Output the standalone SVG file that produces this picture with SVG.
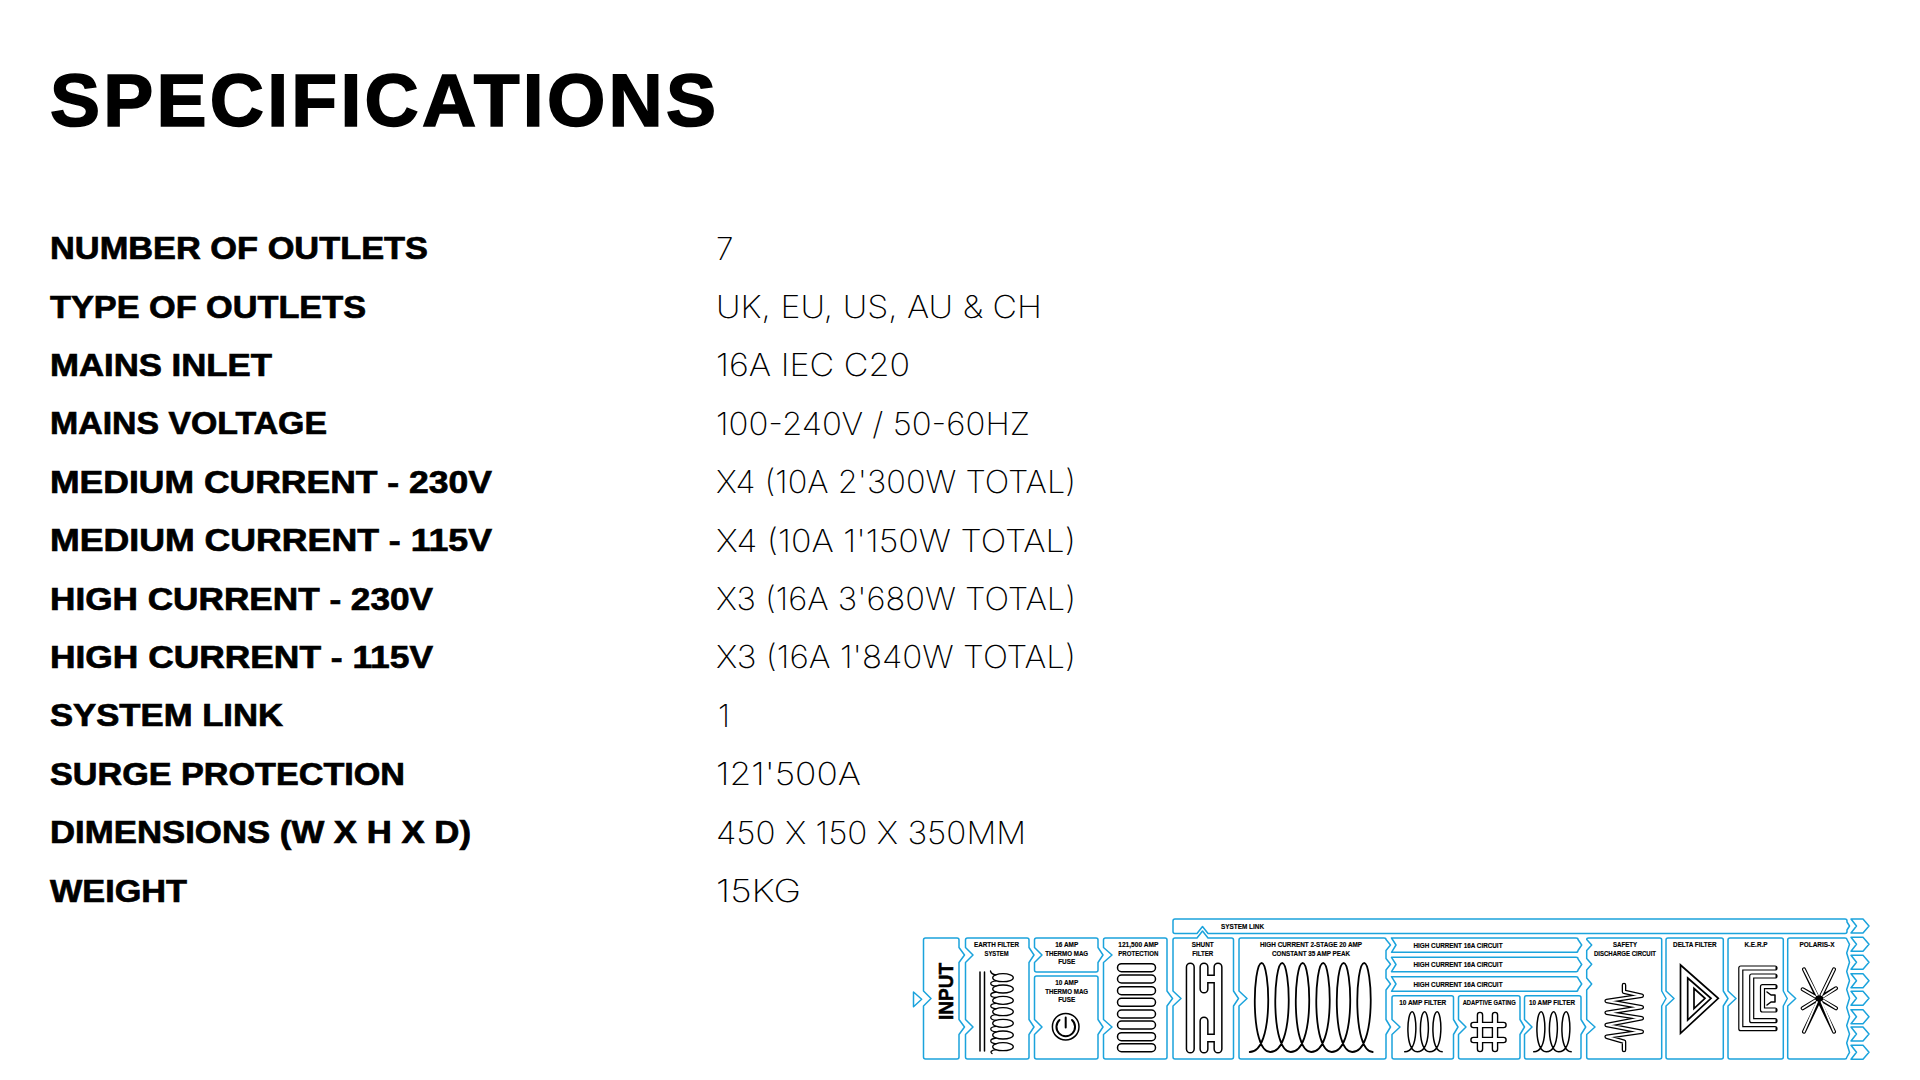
<svg xmlns="http://www.w3.org/2000/svg" xmlns:xlink="http://www.w3.org/1999/xlink" width="1920" height="1080" viewBox="0 0 1920 1080">
<style>
text{font-family:"Liberation Sans",Arial,sans-serif;fill:#000}
.title{font-size:75px;font-weight:700;stroke:#000;stroke-width:1.6px}
.k{font-size:31.5px;font-weight:700;stroke:#000;stroke-width:.7px}
.v{font-family:Inter,"Liberation Sans",sans-serif;font-size:31.5px;font-weight:200}
.t{font-size:7px;font-weight:700;text-anchor:middle;stroke:#000;stroke-width:.15px}
.b{fill:#fff;stroke:#1ba3dc;stroke-width:1.5;stroke-linejoin:round}
.i{fill:none;stroke:#000;stroke-width:1.5;stroke-linecap:round;stroke-linejoin:round}
.ob{fill:none;stroke:#000;stroke-linecap:round;stroke-linejoin:round}
.ow{fill:none;stroke:#fff;stroke-linecap:butt;stroke-linejoin:round}
</style>
<defs>
<path id="out" class="b" d="M1851,-7 H1863 L1869,0 L1863,7 H1851 L1856.5,0 Z"/>
</defs>
<rect width="1920" height="1080" fill="#fff"/>
<text class="title" x="50" y="126" textLength="666" lengthAdjust="spacing">SPECIFICATIONS</text>
<g id="spec-keys">
<text class="k" x="50" y="259" textLength="378" lengthAdjust="spacingAndGlyphs">NUMBER OF OUTLETS</text>
<text class="k" x="50" y="317.5" textLength="316" lengthAdjust="spacingAndGlyphs">TYPE OF OUTLETS</text>
<text class="k" x="50" y="375.9" textLength="222" lengthAdjust="spacingAndGlyphs">MAINS INLET</text>
<text class="k" x="50" y="434.3" textLength="277" lengthAdjust="spacingAndGlyphs">MAINS VOLTAGE</text>
<text class="k" x="50" y="492.7" textLength="442" lengthAdjust="spacingAndGlyphs">MEDIUM CURRENT - 230V</text>
<text class="k" x="50" y="551.1" textLength="442" lengthAdjust="spacingAndGlyphs">MEDIUM CURRENT - 115V</text>
<text class="k" x="50" y="609.5" textLength="383" lengthAdjust="spacingAndGlyphs">HIGH CURRENT - 230V</text>
<text class="k" x="50" y="667.9" textLength="383" lengthAdjust="spacingAndGlyphs">HIGH CURRENT - 115V</text>
<text class="k" x="50" y="726.3" textLength="233" lengthAdjust="spacingAndGlyphs">SYSTEM LINK</text>
<text class="k" x="50" y="784.7" textLength="355" lengthAdjust="spacingAndGlyphs">SURGE PROTECTION</text>
<text class="k" x="50" y="843.1" textLength="421" lengthAdjust="spacingAndGlyphs">DIMENSIONS (W X H X D)</text>
<text class="k" x="50" y="901.5" textLength="137" lengthAdjust="spacingAndGlyphs">WEIGHT</text>
</g>
<g id="spec-values">
<text class="v" x="716" y="259.5">7</text>
<text class="v" x="716" y="318" textLength="326" lengthAdjust="spacingAndGlyphs">UK, EU, US, AU &amp; CH</text>
<text class="v" x="716" y="376.4" textLength="194" lengthAdjust="spacingAndGlyphs">16A IEC C20</text>
<text class="v" x="716" y="434.8" textLength="314" lengthAdjust="spacingAndGlyphs">100-240V / 50-60HZ</text>
<text class="v" x="716" y="493.2" textLength="360" lengthAdjust="spacingAndGlyphs">X4 (10A 2'300W TOTAL)</text>
<text class="v" x="716" y="551.6" textLength="360" lengthAdjust="spacingAndGlyphs">X4 (10A 1'150W TOTAL)</text>
<text class="v" x="716" y="610" textLength="360" lengthAdjust="spacingAndGlyphs">X3 (16A 3'680W TOTAL)</text>
<text class="v" x="716" y="668.4" textLength="360" lengthAdjust="spacingAndGlyphs">X3 (16A 1'840W TOTAL)</text>
<text class="v" x="718" y="726.8">1</text>
<text class="v" x="716" y="785.2" textLength="145" lengthAdjust="spacingAndGlyphs">121'500A</text>
<text class="v" x="716" y="843.6" textLength="310" lengthAdjust="spacingAndGlyphs">450 X 150 X 350MM</text>
<text class="v" x="716" y="902" textLength="85" lengthAdjust="spacingAndGlyphs">15KG</text>
</g>

<g id="connectors">
<path class="b" d="M913.5,992 L921.7,999.3 L913.5,1006.7 Z"/>
<use xlink:href="#out" href="#out" y="926"/>
<use xlink:href="#out" href="#out" y="944.3"/>
<use xlink:href="#out" href="#out" y="962.3"/>
<use xlink:href="#out" href="#out" y="980.7"/>
<use xlink:href="#out" href="#out" y="998.3"/>
<use xlink:href="#out" href="#out" y="1016.7"/>
<use xlink:href="#out" href="#out" y="1034"/>
<use xlink:href="#out" href="#out" y="1052.3"/>
</g>

<g id="input">
<path class="b" d="M925.5,938 H957 Q959,938 959,940 V947.5 L964.5,955 L959,962.5 V1019.5 L964.5,1027 L959,1034.5 V1057 Q959,1059 957,1059 H925.5 Q923.5,1059 923.5,1057 V1006 L931,998.5 L923.5,991 V940 Q923.5,938 925.5,938 Z"/>
<text transform="translate(952.7,1020) rotate(-90)" font-size="21" font-weight="700" textLength="57" lengthAdjust="spacingAndGlyphs" stroke="#000" stroke-width=".5">INPUT</text>
</g>

<g id="earth-filter">
<path class="b" d="M967.5,938 H1027 Q1029,938 1029,940 V947.5 L1034,955 L1029,962.5 V1019.5 L1034,1027 L1029,1034.5 V1057 Q1029,1059 1027,1059 H967.5 Q965.5,1059 965.5,1057 V1034.5 L973,1027 L965.5,1019.5 V962.5 L973,955 L965.5,947.5 V940 Q965.5,938 967.5,938 Z"/>
<text class="t" x="996.5" y="947.3" textLength="45" lengthAdjust="spacingAndGlyphs">EARTH FILTER</text>
<text class="t" x="996.5" y="955.7" textLength="24" lengthAdjust="spacingAndGlyphs">SYSTEM</text>
<path class="i" d="M980,972 V1051 M984.5,972 V1051"/>
<g class="i" style="stroke-width:1.3">
<ellipse cx="1003" cy="977.7" rx="10.3" ry="4"/>
<ellipse cx="1003" cy="989" rx="10.3" ry="4"/>
<ellipse cx="1003" cy="1000.4" rx="10.3" ry="4"/>
<ellipse cx="1003" cy="1011.7" rx="10.3" ry="4"/>
<ellipse cx="1003" cy="1023.3" rx="10.3" ry="4"/>
<ellipse cx="1003" cy="1035" rx="10.3" ry="4"/>
<ellipse cx="1003" cy="1046.7" rx="10.3" ry="4"/>
<path d="M990.5,971 C991,973.5 992.5,974.5 996,974.8 M996,980.8 C989,981.5 989,985.5 996,986.2 M996,992 C989,993 989,997 996,997.5 M996,1003.4 C989,1004 989,1008 996,1008.8 M996,1014.7 C989,1015.5 989,1019.5 996,1020.4 M996,1026.3 C989,1027 989,1031 996,1032 M996,1038 C989,1039 989,1043 996,1043.8 M996,1049.7 C991,1050.2 990,1052 992,1053.5"/>
</g>
</g>

<g id="fuse-16">
<path class="b" d="M1036.5,938 H1096 Q1098,938 1098,940 V947.5 L1103,955 L1098,962.5 V970 Q1098,972 1096,972 H1036.5 Q1034.5,972 1034.5,970 V962.5 L1042,955 L1034.5,947.5 V940 Q1034.5,938 1036.5,938 Z"/>
<text class="t" x="1066.7" y="947.3" textLength="23" lengthAdjust="spacingAndGlyphs">16 AMP</text>
<text class="t" x="1066.7" y="955.7" textLength="43" lengthAdjust="spacingAndGlyphs">THERMO MAG</text>
<text class="t" x="1066.7" y="964" textLength="17" lengthAdjust="spacingAndGlyphs">FUSE</text>
</g>

<g id="fuse-10">
<path class="b" d="M1036.5,976 H1096 Q1098,976 1098,978 V1019.5 L1103,1027 L1098,1034.5 V1057 Q1098,1059 1096,1059 H1036.5 Q1034.5,1059 1034.5,1057 V1034.5 L1042,1027 L1034.5,1019.5 V978 Q1034.5,976 1036.5,976 Z"/>
<text class="t" x="1066.7" y="985.3" textLength="23" lengthAdjust="spacingAndGlyphs">10 AMP</text>
<text class="t" x="1066.7" y="994" textLength="43" lengthAdjust="spacingAndGlyphs">THERMO MAG</text>
<text class="t" x="1066.7" y="1002.3" textLength="17" lengthAdjust="spacingAndGlyphs">FUSE</text>
<circle class="i" cx="1065.7" cy="1026.7" r="13.3"/>
<path class="i" d="M1059.5,1020 A9.3,9.3 0 1 0 1072,1020 M1065.7,1017.5 V1027.5" style="stroke-width:2"/>
</g>

<g id="surge-protection">
<path class="b" d="M1105.5,938 H1165 Q1167,938 1167,940 V991 L1172.5,998.5 L1167,1006 V1057 Q1167,1059 1165,1059 H1105.5 Q1103.5,1059 1103.5,1057 V1034.5 L1112,1027 L1103.5,1019.5 V962.5 L1112,955 L1103.5,947.5 V940 Q1103.5,938 1105.5,938 Z"/>
<text class="t" x="1138.3" y="947.3" textLength="40" lengthAdjust="spacingAndGlyphs">121,500 AMP</text>
<text class="t" x="1138.3" y="955.7" textLength="40" lengthAdjust="spacingAndGlyphs">PROTECTION</text>
<g class="i">
<rect x="1117.5" y="963.7" width="38" height="8" rx="4"/>
<rect x="1117.5" y="975" width="38" height="8" rx="4"/>
<rect x="1117.5" y="986.7" width="38" height="8" rx="4"/>
<rect x="1117.5" y="998.3" width="38" height="8" rx="4"/>
<rect x="1117.5" y="1010" width="38" height="8" rx="4"/>
<rect x="1117.5" y="1021" width="38" height="8" rx="4"/>
<rect x="1117.5" y="1032.7" width="38" height="8" rx="4"/>
<rect x="1117.5" y="1043.7" width="38" height="8" rx="4"/>
</g>
</g>

<g id="system-link">
<path class="b" d="M1175,919 H1845 Q1847,919 1847,921 V922 L1849.5,926 L1847,930 V931.5 Q1847,933.5 1845,933.5 H1208 L1202.5,926.5 L1197,933.5 H1175 Q1173,933.5 1173,931.5 V921 Q1173,919 1175,919 Z"/>
<text class="t" x="1242.5" y="929" textLength="43" lengthAdjust="spacingAndGlyphs">SYSTEM LINK</text>
</g>

<g id="shunt-filter">
<path class="b" d="M1175,938 H1197 L1202.5,931 L1208,938 H1231.5 Q1233.5,938 1233.5,940 V991 L1238.5,998.5 L1233.5,1006 V1057 Q1233.5,1059 1231.5,1059 H1175 Q1173,1059 1173,1057 V1006 L1181,998.5 L1173,991 V940 Q1173,938 1175,938 Z"/>
<text class="t" x="1202.7" y="947.3" textLength="22" lengthAdjust="spacingAndGlyphs">SHUNT</text>
<text class="t" x="1202.7" y="955.7" textLength="21" lengthAdjust="spacingAndGlyphs">FILTER</text>
<path class="ob" style="stroke-width:9.2" d="M1190.3,967 V1049 M1204,967 V989 M1204,979 H1218 M1218,967 V1049 M1204,1021 V1049 M1204,1038 H1218"/>
<path class="ow" style="stroke-linecap:round;stroke-width:6.2" d="M1190.3,967 V1049 M1204,967 V989 M1204,979 H1218 M1218,967 V1049 M1204,1021 V1049 M1204,1038 H1218"/>
</g>

<g id="high-current">
<path class="b" d="M1241,938 H1384 Q1386,938 1386,939.5 L1390.5,945 L1386,950.5 V958.5 L1390.5,964.3 L1386,970 V978 L1390.5,984 L1386,990 V1019.5 L1390.5,1027 L1386,1034.5 V1057 Q1386,1059 1384,1059 H1241 Q1239,1059 1239,1057 V1006 L1247,998.5 L1239,991 V940 Q1239,938 1241,938 Z"/>
<text class="t" x="1311" y="947.3" textLength="102" lengthAdjust="spacingAndGlyphs">HIGH CURRENT 2-STAGE 20 AMP</text>
<text class="t" x="1311" y="955.7" textLength="78" lengthAdjust="spacingAndGlyphs">CONSTANT 35 AMP PEAK</text>
<path class="i" style="stroke-width:1.8" d="M1249.7,1052 c25,0 20,-89 12,-89 c-9,0 -12,89 8.5,89 c25,0 20,-89 12,-89 c-9,0 -12,89 8.5,89 c25,0 20,-89 12,-89 c-9,0 -12,89 8.5,89 c25,0 20,-89 12,-89 c-9,0 -12,89 8.5,89 c25,0 20,-89 12,-89 c-9,0 -12,89 8.5,89 c25,0 20,-89 12,-89 c-9,0 -12,89 8.5,89"/>
</g>

<g id="circuit-1">
<path class="b" d="M1391.5,938 H1576 Q1578,938 1578,939.5 L1581.7,945 L1578,950.5 Q1578,952.3 1576,952.3 H1391.5 L1396,945 Z"/>
<text class="t" x="1458" y="947.7" textLength="89" lengthAdjust="spacingAndGlyphs">HIGH CURRENT 16A CIRCUIT</text>
</g>
<g id="circuit-2">
<path class="b" d="M1391.5,957.3 H1576 Q1578,957.3 1578,958.8 L1581.7,964.5 L1578,970 Q1578,971.7 1576,971.7 H1391.5 L1396,964.5 Z"/>
<text class="t" x="1458" y="967" textLength="89" lengthAdjust="spacingAndGlyphs">HIGH CURRENT 16A CIRCUIT</text>
</g>
<g id="circuit-3">
<path class="b" d="M1391.5,976.7 H1576 Q1578,976.7 1578,978.2 L1581.7,984 L1578,989.5 Q1578,991.3 1576,991.3 H1391.5 L1396,984 Z"/>
<text class="t" x="1458" y="986.7" textLength="89" lengthAdjust="spacingAndGlyphs">HIGH CURRENT 16A CIRCUIT</text>
</g>

<g id="filter-10a-1">
<path class="b" d="M1394,995.7 H1451.5 Q1453.5,995.7 1453.5,997.7 V1019.5 L1458,1027 L1453.5,1034.5 V1057 Q1453.5,1059 1451.5,1059 H1394 Q1392,1059 1392,1057 V1034.5 L1400,1027 L1392,1019.5 V997.7 Q1392,995.7 1394,995.7 Z"/>
<text class="t" x="1422.7" y="1005.3" textLength="47" lengthAdjust="spacingAndGlyphs">10 AMP FILTER</text>
<path class="i" d="M1404.7,1051.7 c15,0 12,-40 7.5,-40 c-5.5,0 -7.5,40 5,40 c15,0 12,-40 7.5,-40 c-5.5,0 -7.5,40 5,40 c15,0 12,-40 7.5,-40 c-5.5,0 -7.5,40 5,40"/>
</g>

<g id="adaptive-gating">
<path class="b" d="M1460.5,995.7 H1518 Q1520,995.7 1520,997.7 V1019.5 L1524.5,1027 L1520,1034.5 V1057 Q1520,1059 1518,1059 H1460.5 Q1458.5,1059 1458.5,1057 V1034.5 L1466,1027 L1458.5,1019.5 V997.7 Q1458.5,995.7 1460.5,995.7 Z"/>
<text class="t" x="1489.2" y="1005.3" textLength="53" lengthAdjust="spacingAndGlyphs">ADAPTIVE GATING</text>
<path class="ob" style="stroke-width:6.6" d="M1480,1015 V1049 M1495,1015 V1049 M1473.5,1025 H1503.5 M1473.5,1040 H1503.5"/>
<path class="ow" style="stroke-width:3.8;stroke-linecap:round" d="M1480,1015 V1049 M1495,1015 V1049 M1473.5,1025 H1503.5 M1473.5,1040 H1503.5"/>
</g>

<g id="filter-10a-2">
<path class="b" d="M1526.5,995.7 H1579 Q1581,995.7 1581,997.7 V1019.5 L1585.7,1027 L1581,1034.5 V1057 Q1581,1059 1579,1059 H1526.5 Q1524.5,1059 1524.5,1057 V1034.5 L1532,1027 L1524.5,1019.5 V997.7 Q1524.5,995.7 1526.5,995.7 Z"/>
<text class="t" x="1552" y="1005.3" textLength="46" lengthAdjust="spacingAndGlyphs">10 AMP FILTER</text>
<path class="i" d="M1533.7,1051.7 c15,0 12,-40 7.5,-40 c-5.5,0 -7.5,40 5,40 c15,0 12,-40 7.5,-40 c-5.5,0 -7.5,40 5,40 c15,0 12,-40 7.5,-40 c-5.5,0 -7.5,40 5,40"/>
</g>

<g id="safety-discharge">
<path class="b" d="M1588.7,938 H1659.7 Q1661.7,938 1661.7,940 V991 L1666,998.5 L1661.7,1006 V1057 Q1661.7,1059 1659.7,1059 H1588.7 Q1586.7,1059 1586.7,1057 V1034.5 L1595,1027 L1586.7,1019.5 V990 L1591.7,984 L1586.7,978 V970 L1591.7,964.3 L1586.7,958.5 V950.5 L1591.7,945 L1586.7,939.5 Q1586.7,938 1588.7,938 Z"/>
<text class="t" x="1625" y="947.3" textLength="24" lengthAdjust="spacingAndGlyphs">SAFETY</text>
<text class="t" x="1625" y="955.7" textLength="62" lengthAdjust="spacingAndGlyphs">DISCHARGE CIRCUIT</text>
<path class="ob" style="stroke-width:4.6" d="M1624,985 V991.7 L1641.7,995.7 L1606.7,1001 L1641.7,1007.3 L1606.7,1012.7 L1641.7,1018.3 L1606.7,1025 L1641.7,1031.7 L1606.7,1036.7 L1624,1041.7 V1050"/>
<path class="ow" style="stroke-width:2;stroke-linecap:round" d="M1624,985 V991.7 L1641.7,995.7 L1606.7,1001 L1641.7,1007.3 L1606.7,1012.7 L1641.7,1018.3 L1606.7,1025 L1641.7,1031.7 L1606.7,1036.7 L1624,1041.7 V1050"/>
</g>

<g id="delta-filter">
<path class="b" d="M1668,938 H1721.3 Q1723.3,938 1723.3,940 V991 L1728,998.5 L1723.3,1006 V1057 Q1723.3,1059 1721.3,1059 H1668 Q1666,1059 1666,1057 V1006 L1674,998.5 L1666,991 V940 Q1666,938 1668,938 Z"/>
<text class="t" x="1694.8" y="947.3" textLength="43.5" lengthAdjust="spacingAndGlyphs">DELTA FILTER</text>
<g class="i" style="stroke-width:1.7;stroke-linecap:butt;stroke-linejoin:miter">
<path d="M1680.5,965 L1718.3,998.3 L1680.5,1033.3 Z"/>
<path d="M1687.7,978 L1711,998.3 L1687.7,1020 Z"/>
<path d="M1694,988.5 L1705,998.3 L1694,1008.5 Z"/>
</g>
</g>

<g id="kerp">
<path class="b" d="M1730,938 H1781.3 Q1783.3,938 1783.3,940 V991 L1787.3,998.5 L1783.3,1006 V1057 Q1783.3,1059 1781.3,1059 H1730 Q1728,1059 1728,1057 V1006 L1736,998.5 L1728,991 V940 Q1728,938 1730,938 Z"/>
<text class="t" x="1756" y="947.3" textLength="23" lengthAdjust="spacingAndGlyphs">K.E.R.P</text>
<path class="ob" style="stroke-width:5.2" d="M1775,968 H1740.8 V1028.7 H1775 M1775,976 H1751.7 V1020.7 H1775 M1775,986.7 H1762.5 V1010 H1775"/>
<path class="ow" style="stroke-width:2.8;stroke-linecap:butt" d="M1775.5,968 H1740.8 V1028.7 H1775.5 M1775.5,976 H1751.7 V1020.7 H1775.5 M1775.5,986.7 H1762.5 V1010 H1775.5"/>
<path class="i" d="M1767,992 L1771,995 H1775 V1002 H1771 L1767,1005"/>
</g>

<g id="polaris-x">
<path class="b" d="M1789.7,938 H1845 Q1846.7,938 1846.7,939 L1849.5,944.3 L1846.7,953 L1849.5,962.3 L1846.7,971.5 L1849.5,980.7 L1846.7,989.5 L1849.5,998.3 L1846.7,1007.5 L1849.5,1016.7 L1846.7,1025.4 L1849.5,1034 L1846.7,1043 L1849.5,1052.3 L1846.7,1057.5 Q1846.7,1059 1845,1059 H1789.7 Q1787.7,1059 1787.7,1057 V1006 L1795.7,998.5 L1787.7,991 V940 Q1787.7,938 1789.7,938 Z"/>
<text class="t" x="1817" y="947.3" textLength="35" lengthAdjust="spacingAndGlyphs">POLARIS-X</text>
<path class="ob" style="stroke-width:4" d="M1804,969.3 L1834,1031.7 M1834,969.3 L1804,1031.7 M1802.7,989.3 L1836,1008.3 M1836,988.3 L1802.7,1008.3"/>
<path class="ow" style="stroke-width:1.8;stroke-linecap:round" d="M1804,969.3 L1817,995 M1834,969.3 L1821.5,995 M1804,1031.7 L1817,1002 M1834,1031.7 L1821.5,1002 M1802.7,989.3 L1815,996.5 M1836,988.3 L1823.5,996.5 M1802.7,1008.3 L1815,1000.5 M1836,1008.3 L1823.5,1000.5"/>
</g>
</svg>
